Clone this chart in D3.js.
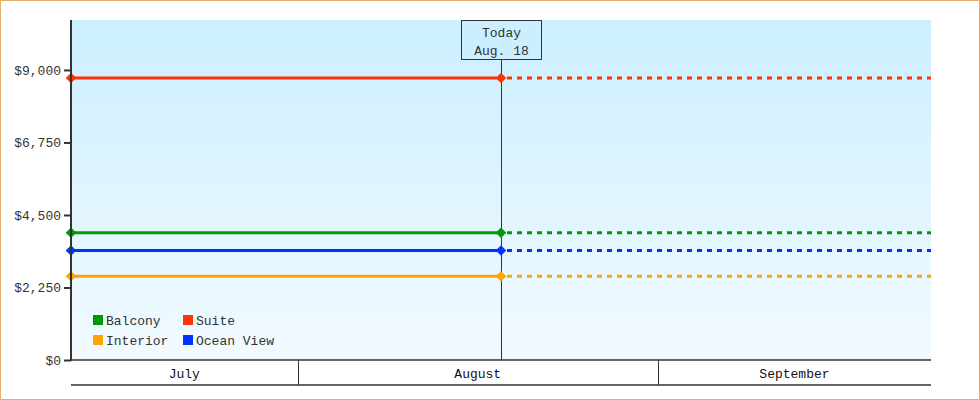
<!DOCTYPE html>
<html>
<head>
<meta charset="utf-8">
<script src="https://cdn.jsdelivr.net/npm/d3@7"></script>
<style>
  body { margin: 0; background: #fff; }
  svg { display: block; font-family: "Liberation Mono", monospace; }
</style>
</head>
<body>
<div id="chart"></div>
<script>
// cabin prices, flat from start of window to today
var categories = ["Balcony", "Suite", "Interior", "Ocean View"],
    prices = [3950, 8750, 2600, 3400],
    colors = ["#009900", "#ff3300", "#ffa500", "#0033ff"];

var yTicks = [0, 2250, 4500, 6750, 9000],
    months = ["July", "August", "September"];

var today = new Date(2016, 7, 18, 12),
    windowStart = new Date(2016, 6, 12, 12),
    windowEnd = new Date(2016, 8, 24, 12);

var width = 980, height = 400,
    margin = {top: 20, right: 49, bottom: 40, left: 71};

var svg = d3.select("#chart").append("svg")
    .attr("width", width).attr("height", height);

var defs = svg.append("defs");
var grad = defs.append("linearGradient").attr("id", "bg")
    .attr("x1", 0).attr("y1", 0).attr("x2", 0).attr("y2", 1);
grad.append("stop").attr("offset", "0%").attr("stop-color", "#ccefff");
grad.append("stop").attr("offset", "100%").attr("stop-color", "#f2faff");

// orange frame
svg.append("rect").attr("x", 0.5).attr("y", 0.5)
    .attr("width", width - 1).attr("height", height - 1)
    .attr("fill", "none").attr("stroke", "#e8ac6c");

var x = d3.scaleTime().domain([windowStart, windowEnd]).range([margin.left, width - margin.right]);
var y = d3.scaleLinear().domain([0, 10550]).range([height - margin.bottom, margin.top]);

var x0 = x.range()[0], x1 = x.range()[1], yb = y(0), yt = y.range()[1];

svg.append("rect").attr("x", x0).attr("y", yt)
    .attr("width", x1 - x0).attr("height", yb - yt)
    .attr("fill", "url(#bg)");

// today marker
var tx = Math.round(x(today)) + 0.5;
svg.append("line").attr("x1", tx).attr("x2", tx).attr("y1", 60).attr("y2", yb)
    .attr("stroke", "#333").attr("stroke-width", 1);
svg.append("rect").attr("x", tx - 40).attr("y", 20.5).attr("width", 80).attr("height", 39)
    .attr("fill", "#ccefff").attr("stroke", "#333");
svg.append("text").attr("x", tx).attr("y", 37).attr("text-anchor", "middle")
    .attr("font-size", 13).attr("fill", "#333").text("Today");
svg.append("text").attr("x", tx).attr("y", 55).attr("text-anchor", "middle")
    .attr("font-size", 13).attr("fill", "#333").text("Aug. 18");

// series
var series = svg.append("g");
categories.forEach(function(c, i) {
    var py = y(prices[i]);
    series.append("line").attr("x1", x0).attr("x2", x(today)).attr("y1", py).attr("y2", py)
        .attr("stroke", colors[i]).attr("stroke-width", 3);
    series.append("line").attr("x1", x(today) + 6).attr("x2", x1).attr("y1", py).attr("y2", py)
        .attr("stroke", colors[i]).attr("stroke-width", 3).attr("stroke-dasharray", "5,5");
    [windowStart, today].forEach(function(d) {
        series.append("path")
            .attr("d", d3.symbol().type(d3.symbolSquare).size(56)())
            .attr("transform", "translate(" + x(d) + "," + py + ") rotate(45)")
            .attr("fill", colors[i]);
    });
});

// y axis
var yAxis = d3.axisLeft(y).tickValues(yTicks).tickSize(7).tickPadding(3)
    .tickFormat(function(d) { return "$" + d3.format(",")(d); });
var gy = svg.append("g").attr("transform", "translate(" + x0 + ",0)").call(yAxis);
gy.select(".domain").remove();
gy.selectAll(".tick line").attr("stroke", "#333").attr("stroke-width", 2);
gy.selectAll(".tick text").attr("font-family", "Liberation Mono, monospace")
    .attr("font-size", 13).attr("fill", "#333");
svg.append("line").attr("x1", x0).attr("x2", x0).attr("y1", yt).attr("y2", yb + 1)
    .attr("stroke", "#333").attr("stroke-width", 2);

// month band under plot
var monthStarts = months.map(function(m, i) { return new Date(2016, 6 + i, 1); });
var band = svg.append("g");
band.append("line").attr("x1", x0).attr("x2", x1).attr("y1", yb).attr("y2", yb)
    .attr("stroke", "#333").attr("stroke-width", 1.5);
band.append("line").attr("x1", x0).attr("x2", x1).attr("y1", yb + 25).attr("y2", yb + 25)
    .attr("stroke", "#333").attr("stroke-width", 1.5);
monthStarts.forEach(function(d, i) {
    var a = Math.max(x0, x(d)),
        b = i < months.length - 1 ? x(monthStarts[i + 1]) : x1;
    if (i > 0) {
        band.append("line").attr("x1", Math.round(a) + 0.5).attr("x2", Math.round(a) + 0.5)
            .attr("y1", yb).attr("y2", yb + 25).attr("stroke", "#333");
    }
    band.append("text").attr("x", (a + b) / 2).attr("y", yb + 18)
        .attr("text-anchor", "middle").attr("font-size", 13).attr("fill", "#111")
        .text(months[i]);
});

// legend, two columns
var legend = svg.append("g").attr("transform", "translate(93,315)");
categories.forEach(function(c, i) {
    var g = legend.append("g")
        .attr("transform", "translate(" + (i % 2) * 90 + "," + Math.floor(i / 2) * 20 + ")");
    g.append("rect").attr("width", 10).attr("height", 10).attr("fill", colors[i]);
    g.append("text").attr("x", 13).attr("y", 10).attr("font-size", 13).attr("fill", "#333").text(c);
});
</script>
</body>
</html>
